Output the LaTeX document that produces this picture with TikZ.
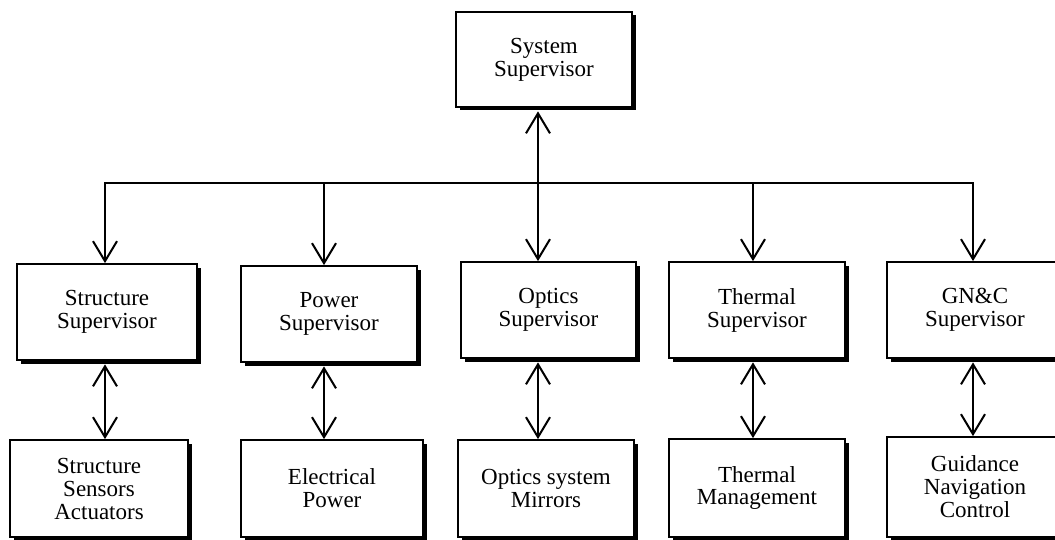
\documentclass[tikz,border=0pt]{standalone}
\usepackage{fontspec}
\setmainfont{Liberation Serif}
\usetikzlibrary{arrows.meta,shadows}
\begin{document}
\begin{tikzpicture}[x=1pt,y=-1pt,
  box/.style={draw=black, line width=1.8pt, fill=white, minimum width=176pt,
    minimum height=96pt, inner sep=0pt, align=center,
    font=\fontsize{23}{23}\selectfont,
    drop shadow={shadow xshift=3.5pt, shadow yshift=-3.5pt, fill=black, opacity=1}},
  link/.style={line width=1.6pt},
  >={Straight Barb[length=20pt,width=24pt,line width=2pt]}
]
\useasboundingbox (0,0) rectangle (1055,540);
\clip (0,0) rectangle (1055,540);

% boxes
\node[box, minimum height=95pt] (sys) at (544,59.5) {System\\Supervisor};
\node[box, minimum width=180pt] (ssup) at (107,312) {Structure\\Supervisor};
\node[box] (psup) at (329,314) {Power\\Supervisor};
\node[box, minimum width=175pt] (osup) at (548.5,310) {Optics\\Supervisor};
\node[box] (tsup) at (757,310) {Thermal\\Supervisor};
\node[box] (gsup) at (975,310) {GN\&C\\Supervisor};
\node[box, minimum width=178pt, minimum height=97pt] (ssa) at (99,488.5) {Structure\\Sensors\\Actuators};
\node[box, minimum width=182pt, minimum height=97pt] (ep) at (332,488.5) {Electrical\\Power};
\node[box, minimum height=97pt] (osm) at (546,488.5) {Optics system\\Mirrors};
\node[box, minimum height=98pt] (tm) at (757,488) {Thermal\\Management};
\node[box, minimum height=100pt] (gnc) at (975,487) {Guidance\\Navigation\\Control};

% shadow-bottom points
\coordinate (sysb) at ([yshift=-3.5pt]sys.south);
\coordinate (ssupb) at ([yshift=-3.5pt]ssup.south);
\coordinate (psupb) at ([yshift=-3.5pt]psup.south);
\coordinate (osupb) at ([yshift=-3.5pt]osup.south);
\coordinate (tsupb) at ([yshift=-3.5pt]tsup.south);
\coordinate (gsupb) at ([yshift=-3.5pt]gsup.south);

% bus
\coordinate (c1) at (105,183);
\coordinate (c2) at (324,183);
\coordinate (c3) at (538,183);
\coordinate (c4) at (753,183);
\coordinate (c5) at (973,183);
\draw[link, line cap=rect] (c1) -- (c5);

\draw[link,->] (c1) -- (c1 |- ssup.north);
\draw[link,->] (c2) -- (c2 |- psup.north);
\draw[link,<->] (c3 |- sysb) -- (c3 |- osup.north);
\draw[link,->] (c4) -- (c4 |- tsup.north);
\draw[link,->] (c5) -- (c5 |- gsup.north);

% lower links
\draw[link,<->] (c1 |- ssupb) -- (c1 |- ssa.north);
\draw[link,<->] (c2 |- psupb) -- (c2 |- ep.north);
\draw[link,<->] (c3 |- osupb) -- (c3 |- osm.north);
\draw[link,<->] (c4 |- tsupb) -- (c4 |- tm.north);
\draw[link,<->] (c5 |- gsupb) -- (c5 |- gnc.north);
\end{tikzpicture}
\end{document}
